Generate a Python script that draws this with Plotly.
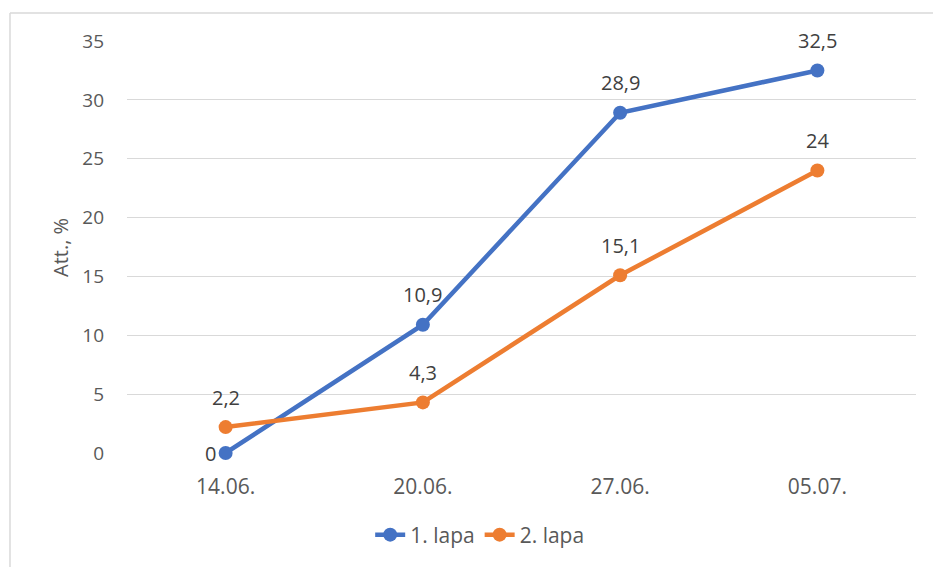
import plotly.graph_objects as go

dates = ["14.06.", "20.06.", "27.06.", "05.07."]
lapa1 = [0, 10.9, 28.9, 32.5]
lapa2 = [2.2, 4.3, 15.1, 24]
y_ticks = [0, 5, 10, 15, 20, 25, 30, 35]

BLUE = "#4472C4"
ORANGE = "#ED7D31"
FONT = "Open Sans, Liberation Sans, sans-serif"
TXT = "#595959"


def fmt(v):
    return f"{v:g}".replace(".", ",")


fig = go.Figure()
annotations = []
for name, vals, col in [("1. lapa", lapa1, BLUE), ("2. lapa", lapa2, ORANGE)]:
    fig.add_trace(go.Scatter(
        x=dates, y=vals, name=name, mode="lines+markers",
        line=dict(color=col, width=4.5),
        marker=dict(color=col, size=14),
        cliponaxis=False,
    ))
    # value labels: above each point, to the left for a zero value
    for d, v in zip(dates, vals):
        if v == 0:
            annotations.append(dict(x=d, y=v, text=fmt(v), showarrow=False,
                                    xanchor="right", yanchor="middle", xshift=-8,
                                    font=dict(family=FONT, size=20, color="#404040")))
        else:
            annotations.append(dict(x=d, y=v, text=fmt(v), showarrow=False,
                                    xanchor="center", yanchor="middle", yshift=30,
                                    font=dict(family=FONT, size=20, color="#404040")))

annotations.append(dict(text="Att., %", xref="paper", yref="paper", x=-0.085, y=0.5,
                        xanchor="center", yanchor="middle",
                        textangle=-90, showarrow=False,
                        font=dict(family=FONT, size=20, color=TXT)))

fig.update_layout(
    width=933, height=567,
    margin=dict(l=127, r=17, t=41, b=114),
    paper_bgcolor="white", plot_bgcolor="white",
    font=dict(family=FONT, size=19, color=TXT),
    showlegend=True,
    legend=dict(orientation="h", x=0.447, xanchor="center", y=-0.199, yanchor="middle",
                font=dict(family=FONT, size=21, color=TXT),
                traceorder="normal"),
    xaxis=dict(type="category", range=[-0.5, 3.5], showgrid=False, zeroline=False,
               showline=False, ticks="", ticklabelstandoff=19,
               tickfont=dict(family=FONT, size=21, color=TXT)),
    yaxis=dict(range=[0, 35], tickvals=y_ticks, showgrid=True, gridcolor="#d9d9d9",
               gridwidth=1.3, zeroline=False, showline=False, ticks="",
               ticklabelstandoff=22,
               tickfont=dict(family=FONT, size=19, color=TXT)),
    annotations=annotations,
    shapes=[
        dict(type="line", xref="paper", yref="paper", x0=-0.1483, x1=1.03, y0=1.068, y1=1.068,
             line=dict(color="#d9d9d9", width=1.5)),
        dict(type="line", xref="paper", yref="paper", x0=-0.1483, x1=-0.1483, y0=1.068, y1=-0.3,
             line=dict(color="#d9d9d9", width=1.5)),
    ],
)
fig.write_html("out.html")
